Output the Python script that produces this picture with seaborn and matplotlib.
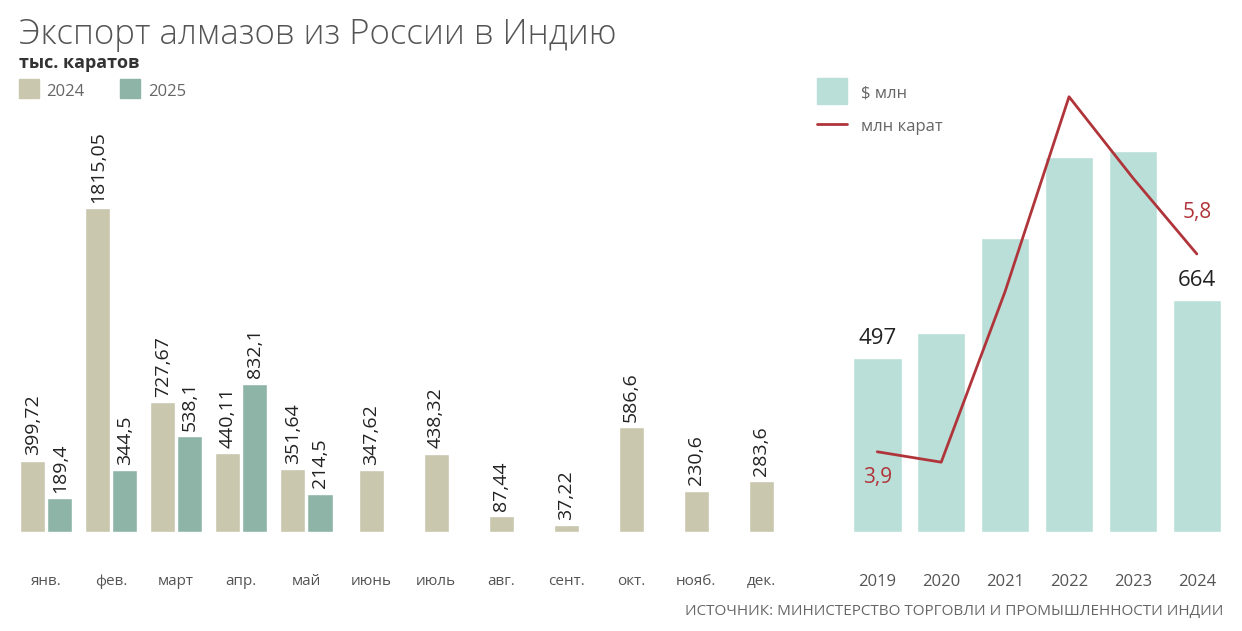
import numpy as np
import pandas as pd
import matplotlib.pyplot as plt
import seaborn as sns

sns.set_style("white")
plt.rcParams['font.family'] = 'Open Sans'

months = ['янв.', 'фев.', 'март', 'апр.', 'май', 'июнь', 'июль', 'авг.', 'сент.', 'окт.', 'нояб.', 'дек.']
v2024 = [399.72, 1815.05, 727.67, 440.11, 351.64, 347.62, 438.32, 87.44, 37.22, 586.6, 230.6, 283.6]
v2025 = [189.4, 344.5, 538.1, 832.1, 214.5]
lab2024 = ['399,72', '1815,05', '727,67', '440,11', '351,64', '347,62', '438,32', '87,44', '37,22', '586,6', '230,6', '283,6']
lab2025 = ['189,4', '344,5', '538,1', '832,1', '214,5']

years = ['2019', '2020', '2021', '2022', '2023', '2024']
usd = [497, 568, 840, 1071, 1088, 664]
carats = [3.9, 3.8, 5.44, 7.31, 6.53, 5.8]

c24, c25 = '#c9c7ae', '#8db4a7'
cbar, cline = '#badfd8', '#b0353b'

fig = plt.figure(figsize=(12.42, 6.31), dpi=100)
fig.text(0.015, 0.93, 'Экспорт алмазов из России в Индию', fontsize=25, color='#555555', fontweight='light')
fig.text(0.015, 0.893, 'тыс. каратов', fontsize=13, color='#333333', fontweight='bold')
fig.patches.append(plt.Rectangle((0.015, 0.845), 0.016, 0.03, color=c24, transform=fig.transFigure))
fig.text(0.037, 0.848, '2024', fontsize=12, color='#666666')
fig.patches.append(plt.Rectangle((0.097, 0.845), 0.016, 0.03, color=c25, transform=fig.transFigure))
fig.text(0.119, 0.848, '2025', fontsize=12, color='#666666')
fig.text(0.985, 0.025, 'ИСТОЧНИК: МИНИСТЕРСТВО ТОРГОВЛИ И ПРОМЫШЛЕННОСТИ ИНДИИ', fontsize=11, color='#666666', ha='right')

# left: monthly carats
ax = fig.add_axes([0.012, 0.157, 0.625, 0.65])
step = 65
w = 25
for i, m in enumerate(months):
    x = i * step
    if i < len(v2025):
        xs = [(x - 13, v2024[i], lab2024[i], c24), (x + 14, v2025[i], lab2025[i], c25)]
    else:
        xs = [(x, v2024[i], lab2024[i], c24)]
    for xx, v, lab, c in xs:
        ax.bar(xx, v, width=w, color=c)
        ax.text(xx, v + 30, lab, rotation=90, ha='center', va='bottom', fontsize=14, color='#222222')
ax.set_xlim(-31, 745)
ax.set_ylim(0, 2300)
ax.set_xticks([i * step for i in range(len(months))])
ax.set_xticklabels(months, fontsize=11, color='#555555')
ax.tick_params(axis='x', length=0, pad=30)
ax.set_yticks([])
sns.despine(ax=ax, left=True, bottom=True)

# right: yearly
ax2 = fig.add_axes([0.672, 0.157, 0.326, 0.721])
df = pd.DataFrame({'year': years, 'usd': usd, 'carats': carats})
sns.barplot(data=df, x='year', y='usd', color=cbar, width=0.76, saturation=1, ax=ax2)
ax2.set_ylim(0, 1300)
ax2.set_xlabel('')
ax2.set_ylabel('')
ax2.set_yticks([])
ax2.tick_params(axis='x', length=0, pad=30, labelsize=12, labelcolor='#555555')
for i in [0, 5]:
    ax2.text(i, usd[i] + 25, str(usd[i]), ha='center', va='bottom', fontsize=16, color='#222222')
sns.despine(ax=ax2, left=True, bottom=True)

ax3 = ax2.twinx()
ax3.plot(range(len(years)), carats, color=cline, lw=2)
ax3.set_ylim(3.13, 7.5)
ax3.set_yticks([])
sns.despine(ax=ax3, left=True, bottom=True, right=True)
ax3.text(0, 3.65, '3,9', ha='center', va='center', fontsize=15, color=cline)
ax3.text(5, 6.2, '5,8', ha='center', va='center', fontsize=15, color=cline)

fig.patches.append(plt.Rectangle((0.658, 0.835), 0.024, 0.042, color=cbar, transform=fig.transFigure))
fig.text(0.693, 0.846, '$ млн', fontsize=12, color='#666666')
fig.lines.append(plt.Line2D([0.658, 0.682], [0.803, 0.803], color=cline, lw=2, transform=fig.transFigure))
fig.text(0.693, 0.792, 'млн карат', fontsize=12, color='#666666')

fig.savefig('out.png', dpi=100)
